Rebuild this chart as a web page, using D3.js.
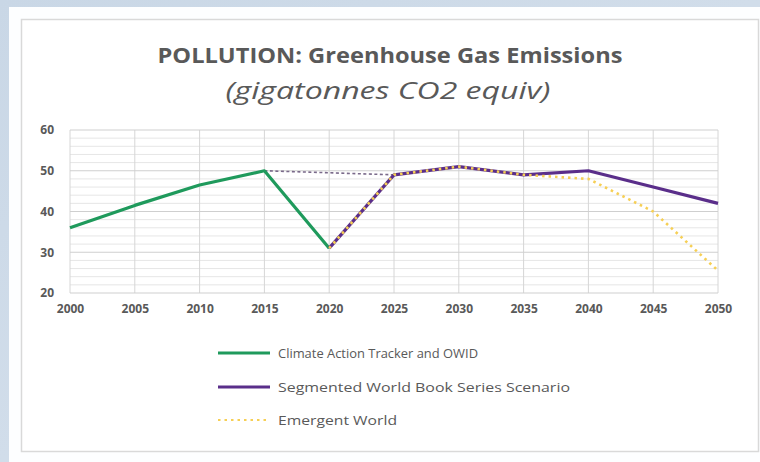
<!DOCTYPE html>
<html><head><meta charset="utf-8">
<script src="https://cdn.jsdelivr.net/npm/d3@7"></script>
<style>
html,body{margin:0;padding:0;background:#fff;}
svg{display:block;}
</style></head>
<body>
<svg id="c" width="760" height="462"></svg>
<script>
const years = [2000, 2005, 2010, 2015, 2020, 2025, 2030, 2035, 2040, 2045, 2050];
const yTicks = [20, 30, 40, 50, 60];
const climateTracker = [36, 41.5, 46.5, 50, 31, null, null, null, null, null, null];
const segmentedWorld = [null, null, null, null, 31, 49, 51, 49, 50, 46, 42];
const emergentWorld = [null, null, null, null, 31, 49, 51, 49, 48, 40, 25.5];
const bridge = [null, null, null, 50, null, 49, null, null, null, null, null];
const seriesNames = ["Climate Action Tracker and OWID", "Segmented World Book Series Scenario", "Emergent World"];
const titleText = "POLLUTION: Greenhouse Gas Emissions";
const subtitleText = "(gigatonnes CO2 equiv)";

const svg = d3.select("#c");
const font = "'Open Sans', 'Noto Sans', sans-serif";

// background frame
const grad = svg.append("defs").append("linearGradient").attr("id","bg").attr("x1",0).attr("y1",0).attr("x2",1).attr("y2",1);
grad.append("stop").attr("offset",0).attr("stop-color","#c9d7e6");
grad.append("stop").attr("offset",1).attr("stop-color","#d9e3ee");
svg.append("rect").attr("x",0).attr("y",0).attr("width",760).attr("height",462).attr("fill","url(#bg)");
svg.append("rect").attr("x",9).attr("y",7).attr("width",751).attr("height",455).attr("fill","#fdfeff");
svg.append("rect").attr("x",21.5).attr("y",19.5).attr("width",737).attr("height",432)
  .attr("fill","#fff").attr("stroke","#d9d9d9").attr("stroke-width",1.5);

const x = d3.scaleLinear().domain([2000, 2050]).range([70, 718]);
const y = d3.scaleLinear().domain([20, 60]).range([293, 130]);

// minor grid
const minor = d3.range(20, 61, 2).filter(v => v % 10 !== 0);
svg.append("g").selectAll("line").data(minor).join("line")
  .attr("x1", x(2000)).attr("x2", x(2050))
  .attr("y1", d => y(d)).attr("y2", d => y(d))
  .attr("stroke", "#e6e6e6").attr("stroke-width", 1);

// vertical grid
svg.append("g").selectAll("line").data(years).join("line")
  .attr("x1", d => x(d)).attr("x2", d => x(d))
  .attr("y1", y(60)).attr("y2", y(20))
  .attr("stroke", "#d6d6d6").attr("stroke-width", 1);

// major grid
svg.append("g").selectAll("line").data(yTicks).join("line")
  .attr("x1", x(2000)).attr("x2", x(2050))
  .attr("y1", d => y(d)).attr("y2", d => y(d))
  .attr("stroke", "#cfcfcf").attr("stroke-width", 1);

// axes labels
const yAxis = d3.axisLeft(y).tickValues(yTicks).tickSize(0).tickPadding(16);
const gy = svg.append("g").attr("transform", `translate(${x(2000)},0)`).call(yAxis);
gy.select(".domain").remove();
gy.selectAll("text").attr("font-family", font).attr("font-size", 12).attr("font-weight", 700).attr("fill", "#595959");

const xAxis = d3.axisBottom(x).tickValues(years).tickFormat(d3.format("d")).tickSize(0).tickPadding(11);
const gx = svg.append("g").attr("transform", `translate(0,${y(20)})`).call(xAxis);
gx.select(".domain").remove();
gx.selectAll("text").attr("font-family", font).attr("font-size", 12).attr("font-weight", 700).attr("fill", "#595959");

const line = d3.line().defined(d => d.v != null).x(d => x(d.yr)).y(d => y(d.v));
const pts = arr => years.map((yr, i) => ({yr, v: arr[i]}));

// bridge dashed
svg.append("path").datum(pts(bridge).filter(d => d.v != null)).attr("d", line)
  .attr("fill","none").attr("stroke","#7a6a8a").attr("stroke-width",1.6).attr("stroke-dasharray","3,2.5");

const green = "#1f9a5c", purple = "#5a2e8a", yellow = "#f6cf55";

svg.append("path").datum(pts(climateTracker)).attr("d", line)
  .attr("fill","none").attr("stroke",green).attr("stroke-width",3.2).attr("stroke-linejoin","round");
svg.append("path").datum(pts(segmentedWorld)).attr("d", line)
  .attr("fill","none").attr("stroke",purple).attr("stroke-width",3.2).attr("stroke-linejoin","round");
svg.append("path").datum(pts(emergentWorld)).attr("d", line)
  .attr("fill","none").attr("stroke",yellow).attr("stroke-width",2.6).attr("stroke-dasharray","2.5,4");

// title
svg.append("text").attr("x", 390).attr("y", 63).attr("text-anchor","middle")
  .attr("font-family", font).attr("font-weight",700).attr("font-size",21).attr("fill","#595959")
  .attr("textLength", 465).attr("lengthAdjust","spacingAndGlyphs")
  .text(titleText);
svg.append("text").attr("x", 388).attr("y", 99).attr("text-anchor","middle")
  .attr("font-family", font).attr("font-style","italic").attr("font-size",23).attr("fill","#595959")
  .attr("textLength", 325).attr("lengthAdjust","spacingAndGlyphs")
  .text(subtitleText);

// legend
const legColors = [green, purple, yellow];
const legY = [353, 387, 420];
const legW = [200, 292, 119];
const lg = svg.append("g");
seriesNames.forEach((n, i) => {
  const l = lg.append("line").attr("x1", 218).attr("x2", 270).attr("y1", legY[i]).attr("y2", legY[i])
    .attr("stroke", legColors[i]).attr("stroke-width", i < 2 ? 3.2 : 2.2);
  if (i === 2) l.attr("stroke-dasharray", "2.5,4");
  lg.append("text").attr("x", 278).attr("y", legY[i] + 4.5).attr("font-family", font)
    .attr("font-size", 12.5).attr("fill", "#595959")
    .attr("textLength", legW[i]).attr("lengthAdjust","spacingAndGlyphs").text(n);
});
</script>
</body></html>
